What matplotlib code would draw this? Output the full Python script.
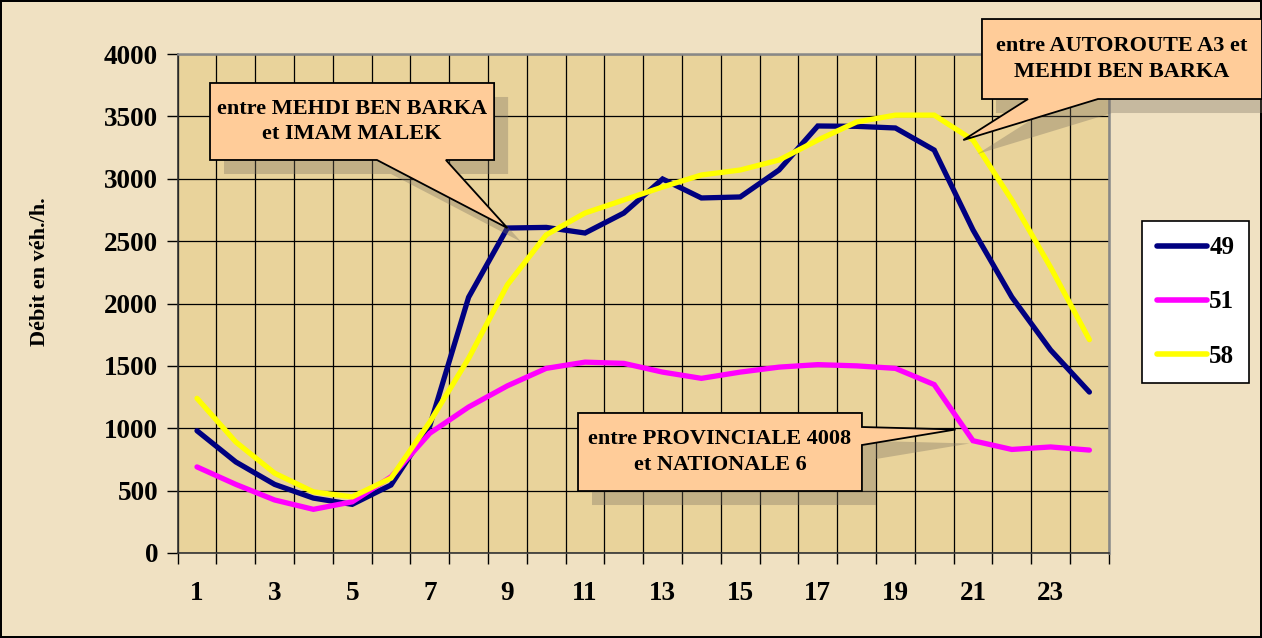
import matplotlib.pyplot as plt
import numpy as np
from matplotlib.patches import Polygon

# hours of the day
hours = list(range(1, 25))

# flow (veh/h) per counting station
s49 = [980, 730, 550, 440, 390, 545, 1020, 2050, 2605, 2610, 2565, 2725, 2998, 2846,
       2854, 3070, 3423, 3420, 3407, 3230, 2590, 2052, 1627, 1290]
s51 = [690, 550, 425, 350, 410, 610, 960, 1170, 1340, 1480, 1530, 1520, 1450, 1400,
       1450, 1490, 1510, 1500, 1480, 1350, 900, 830, 850, 825]
s58 = [1240, 890, 640, 490, 450, 600, 1050, 1560, 2150, 2550, 2725, 2830, 2934, 3030,
       3070, 3150, 3310, 3455, 3510, 3510, 3310, 2830, 2290, 1710]

series_names = ["49", "51", "58"]
series_colors = ["#000080", "#FF00FF", "#FFFF00"]

xlabels = [str(h) for h in range(1, 24, 2)]

FONT = "Liberation Serif"
FS_TICK = 19.5
FS_NOTE = 16
FS_LEG = 18

W, H = 1262, 638
fig = plt.figure(figsize=(W / 100, H / 100), dpi=100)
fig.patch.set_facecolor("#F0E1C2")
fig.patch.set_edgecolor("black")
fig.patch.set_linewidth(1.5)

ax = fig.add_axes([177.6 / W, 1 - 553 / H, 931.2 / W, 499 / H])
ax.set_facecolor("#E9D39B")

for vals, name, col in zip([s49, s51, s58], series_names, series_colors):
    ax.plot(hours, vals, color=col, lw=3.8, label=name, zorder=5,
            solid_capstyle="round", solid_joinstyle="miter")

ax.set_xlim(0.5, 24.5)
ax.set_ylim(0, 4000)

# category axis: gridlines and tick marks between categories
ax.set_xticks(np.arange(0.5, 25, 1), minor=True)
ax.set_xticks(range(1, 24, 2))
ax.set_xticklabels(xlabels)
ax.tick_params(axis="x", which="major", length=0, pad=20)
ax.tick_params(axis="x", which="minor", length=8, width=1, color="black", direction="out")
ax.set_yticks(range(0, 4001, 500))
ax.tick_params(axis="y", length=8, width=1, color="black", direction="out", pad=6)
ax.grid(True, which="minor", axis="x", color="black", lw=0.9, zorder=1)
ax.grid(True, which="major", axis="y", color="black", lw=0.9, zorder=1)
ax.set_axisbelow(True)

for lab in ax.get_xticklabels() + ax.get_yticklabels():
    lab.set_fontfamily(FONT)
    lab.set_fontweight("bold")
    lab.set_fontsize(FS_TICK)

for side in ["top", "right"]:
    ax.spines[side].set_color("#888888")
    ax.spines[side].set_linewidth(1.8)
for side in ["left", "bottom"]:
    ax.spines[side].set_color("#333333")
    ax.spines[side].set_linewidth(1.2)

fig.text(40 / W, 1 - 272 / H, "Débit en véh./h.", rotation=90, ha="center", va="center",
         fontfamily=FONT, fontweight="bold", fontsize=FS_NOTE)

fig.canvas.draw()


def callout(box, base, tip, side, text):
    # box in axes fraction (x0, y0, x1, y1), base = two positions along the edge
    # where the pointer leaves the box, tip in data coords
    x0, y0, x1, y1 = box
    ta = ax.transAxes
    tx, ty = ax.transData.transform(tip)
    if side == "bottom":
        pts = [(x0, y1), (x1, y1), (x1, y0), (base[1], y0), None, (base[0], y0), (x0, y0)]
    else:  # right
        pts = [(x0, y1), (x1, y1), (x1, base[0]), None, (x1, base[1]), (x1, y0), (x0, y0)]
    disp = []
    for p in pts:
        if p is None:
            disp.append((tx, ty))
        else:
            disp.append(tuple(ta.transform(p)))
    disp = np.array(disp)
    shadow = Polygon(disp + np.array([14, -14]), closed=True, transform=None,
                     facecolor="#7a7060", edgecolor="none", alpha=0.35, zorder=3,
                     clip_on=False)
    fig.add_artist(shadow)
    body = Polygon(disp, closed=True, transform=None, facecolor="#FFCC99",
                   edgecolor="black", lw=1.3, zorder=7, clip_on=False)
    fig.add_artist(body)
    cx, cy = ta.transform(((x0 + x1) / 2, (y0 + y1) / 2))
    fig.text(cx / W, cy / H, text, ha="center", va="center", fontfamily=FONT,
             fontweight="bold", fontsize=FS_NOTE, linespacing=1.35, zorder=8)


callout((0.0348, 0.7876, 0.3399, 0.9419), (0.2141, 0.2881), (9, s49[8]), "bottom",
        "entre MEHDI BEN BARKA\net IMAM MALEK")
callout((0.8638, 0.9098, 1.1645, 1.0701), (0.9132, 0.9884), (20.75, 3310), "bottom",
        "entre AUTOROUTE A3 et\nMEHDI BEN BARKA")
callout((0.430, 0.1242, 0.7349, 0.2806), (0.2525, 0.2164), (20.55, 990), "right",
        "entre PROVINCIALE 4008\net NATIONALE 6")

leg = fig.legend(loc="center", bbox_to_anchor=(1195.5 / W, 1 - 302 / H),
                 prop={"family": FONT, "weight": "bold", "size": FS_LEG},
                 handlelength=2.0, handletextpad=0.1, labelspacing=1.25,
                 borderpad=0.6, fancybox=False, framealpha=1, edgecolor="black")
leg.get_frame().set_linewidth(1.2)
for h in leg.legend_handles:
    h.set_linewidth(4)

fig.savefig("out.png", dpi=100, facecolor=fig.get_facecolor(), edgecolor=fig.get_edgecolor())
